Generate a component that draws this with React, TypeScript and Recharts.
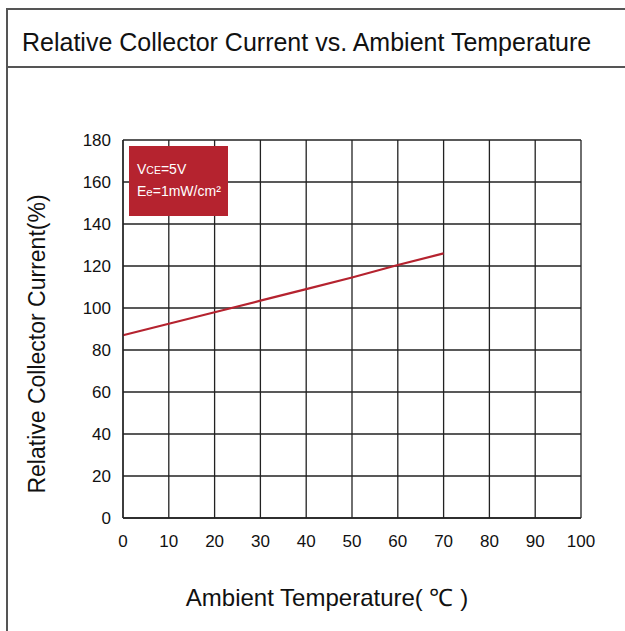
import * as React from 'react';
import { CartesianGrid, Line, LineChart, XAxis, YAxis, Customized } from 'recharts';

const TEMPS = [0, 10, 20, 30, 40, 50, 60, 70];
const CURRENT = [87, 92.5, 98, 103.5, 109, 114.5, 120.5, 126];
const X_TICKS = [0, 10, 20, 30, 40, 50, 60, 70, 80, 90, 100];
const Y_TICKS = [0, 20, 40, 60, 80, 100, 120, 140, 160, 180];

const FONT = 'Arial, "Liberation Sans", Helvetica, sans-serif';
const RED = '#b5232f';
const GRID = '#222';
const FRAME = '#555';

const data = TEMPS.map((t, i) => ({ t, v: CURRENT[i] }));

const TICK_STYLE = { fill: '#111', fontSize: 17, fontFamily: FONT } as const;

function Badge(): React.JSX.Element {
  return (
    <g fontFamily={FONT} fill="#fff">
      <rect x={129} y={146} width={99} height={70} fill={RED} />
      <text x={137} y={174} fontSize={14}>
        V<tspan fontSize={10.5}>CE</tspan>=5V
      </text>
      <text x={137} y={196} fontSize={14}>
        E<tspan fontSize={11.5}>e</tspan>=1mW/cm²
      </text>
    </g>
  );
}

export default function App(): React.JSX.Element {
  return (
    <div style={{ position: 'fixed', left: 0, top: 0, width: 625, height: 631, background: '#fff' }}>
      <div style={{ position: 'absolute', left: 6, top: 8, width: 2, height: 623, background: FRAME }} />
      <div style={{ position: 'absolute', left: 6, top: 8, width: 619, height: 2, background: FRAME }} />
      <div style={{ position: 'absolute', left: 6, top: 66, width: 619, height: 2, background: FRAME }} />
      <div
        style={{
          position: 'absolute',
          left: 22,
          top: 28,
          fontFamily: FONT,
          fontSize: 25,
          color: '#111',
          whiteSpace: 'nowrap',
        }}
      >
        Relative Collector Current vs. Ambient Temperature
      </div>
      <div style={{ position: 'absolute', left: 0, top: 0 }}>
        <LineChart width={625} height={631} data={data} margin={{ top: 140, right: 44, bottom: 83, left: 83 }}>
          <CartesianGrid stroke={GRID} strokeWidth={1.3} />
          <XAxis
            dataKey="t"
            type="number"
            domain={[0, 100]}
            ticks={X_TICKS}
            interval={0}
            height={30}
            tickLine={false}
            axisLine={{ stroke: GRID, strokeWidth: 1.3 }}
            tick={TICK_STYLE}
            fontSize={17}
            fontFamily={FONT}
            tickMargin={11}
          />
          <YAxis
            type="number"
            domain={[0, 180]}
            ticks={Y_TICKS}
            interval={0}
            width={40}
            tickLine={false}
            axisLine={{ stroke: GRID, strokeWidth: 1.3 }}
            tick={TICK_STYLE}
            fontSize={17}
            fontFamily={FONT}
            tickMargin={6}
          />
          <Line dataKey="v" stroke={RED} strokeWidth={2.2} dot={false} isAnimationActive={false} />
          <Customized component={Badge} />
          <text
            x={37}
            y={344}
            transform="rotate(-90 37 344)"
            textAnchor="middle"
            dominantBaseline="central"
            fontFamily={FONT}
            fontSize={23}
            fill="#111"
          >
            Relative Collector Current(%)
          </text>
          <text x={327} y={606} textAnchor="middle" fontFamily={FONT} fontSize={24} fill="#111">
            Ambient Temperature( ℃ )
          </text>
        </LineChart>
      </div>
    </div>
  );
}
